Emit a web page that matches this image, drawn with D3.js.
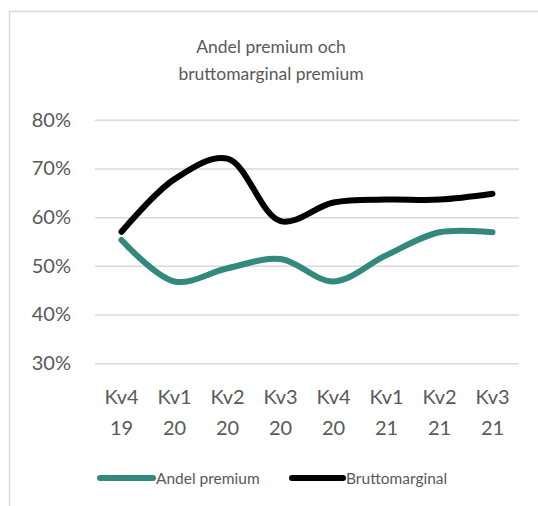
<!DOCTYPE html>
<html><head><meta charset="utf-8">
<script src="https://cdn.jsdelivr.net/npm/d3@7"></script>
<style>body{margin:0;background:#fff}svg{display:block}text{font-family:"Lato","Open Sans",sans-serif;fill:#595959}</style>
</head><body>
<svg id="c" width="538" height="506"></svg>
<script>
const categories = [["Kv4","19"],["Kv1","20"],["Kv2","20"],["Kv3","20"],["Kv4","20"],["Kv1","21"],["Kv2","21"],["Kv3","21"]];
const andelPremium = [55.3, 46.8, 49.5, 51.4, 46.8, 52.2, 56.9, 56.9];
const bruttomarginal = [57.0, 67.8, 72.0, 59.2, 63.0, 63.6, 63.6, 64.8];
const yTicks = [30, 40, 50, 60, 70, 80];
const seriesNames = ["Andel premium", "Bruttomarginal"];
const colors = ["#338a7c", "#000000"];

const svg = d3.select("#c");
// frame
svg.append("path").attr("d","M9.5,506 V11.5 H538").attr("fill","none").attr("stroke","#d9d9d9").attr("stroke-width",1.5);

const x = d3.scaleBand().domain(d3.range(categories.length)).range([95, 519]);
const y = d3.scaleLinear().domain([30, 80]).range([363.3, 119.7]);

// title
const title = svg.append("text").attr("text-anchor","middle").attr("font-size",17.5);
title.append("tspan").attr("x",271).attr("y",53).text("Andel premium och");
title.append("tspan").attr("x",271).attr("y",80).text("bruttomarginal premium");

// grid
const yAxis = d3.axisLeft(y).tickValues(yTicks).tickFormat(d => d + "%").tickSize(-(519-95)).tickPadding(24);
const gy = svg.append("g").attr("transform","translate(95,0)").call(yAxis);
gy.select(".domain").remove();
gy.selectAll(".tick line").attr("stroke","#d9d9d9").attr("stroke-width",1.5);
gy.selectAll(".tick text").attr("font-size",20).attr("x",-24).style("fill","#595959");

// x labels
const gx = svg.append("g");
categories.forEach((c, i) => {
  const cx = x(i) + x.bandwidth()/2;
  const t = gx.append("text").attr("text-anchor","middle").attr("font-size",20);
  t.append("tspan").attr("x",cx).attr("y",404).text(c[0]);
  t.append("tspan").attr("x",cx).attr("y",435).text(c[1]);
});

const line = d3.line().x((d,i) => x(i) + x.bandwidth()/2).y(d => y(d)).curve(d3.curveCatmullRom.alpha(0.5));
[andelPremium, bruttomarginal].forEach((s, k) => {
  svg.append("path").datum(s).attr("d", line).attr("fill","none").attr("stroke",colors[k]).attr("stroke-width",6).attr("stroke-linecap","round").attr("stroke-linejoin","round");
});

// legend
const leg = [{x1:100,x2:153,tx:156},{x1:292,x2:343,tx:346}];
leg.forEach((l,k) => {
  svg.append("line").attr("x1",l.x1).attr("x2",l.x2).attr("y1",478).attr("y2",478).attr("stroke",colors[k]).attr("stroke-width",6).attr("stroke-linecap","round");
  svg.append("text").attr("x",l.tx).attr("y",483.5).attr("font-size",15.5).text(seriesNames[k]);
});
</script>
</body></html>
